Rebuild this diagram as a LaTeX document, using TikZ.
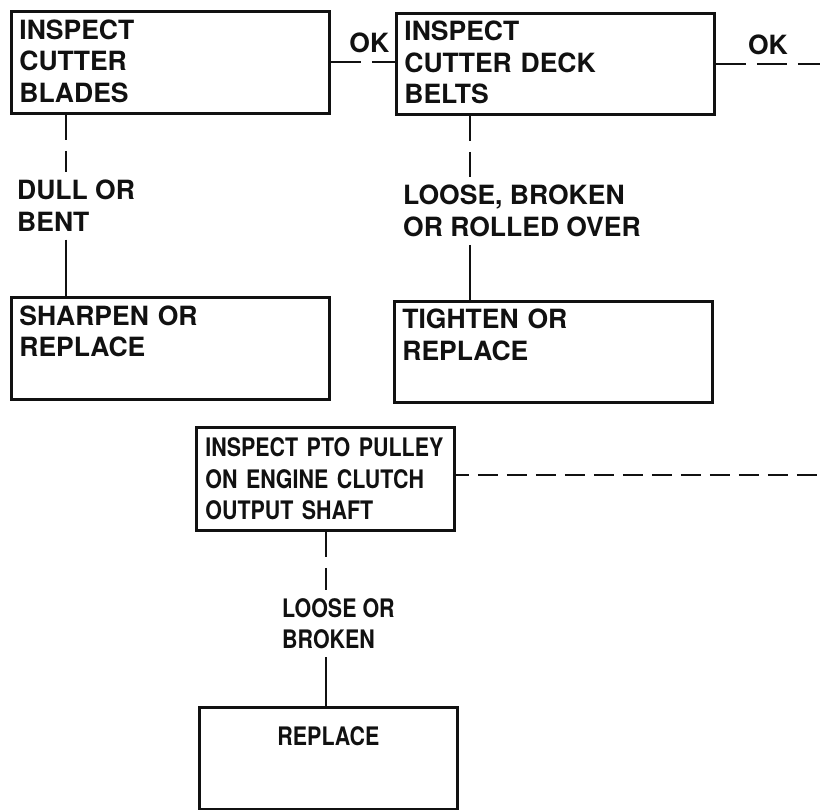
\documentclass[tikz,border=0pt]{standalone}
\usepackage{fontspec}
\setmainfont{TeX Gyre Heros}
\newfontfamily\narrowheros[FakeStretch=0.84]{TeX Gyre Heros}
\usepackage{tikz}
\usetikzlibrary{positioning,calc}
\definecolor{ink}{HTML}{111111}
\tikzset{
  box/.style     ={draw=ink,line width=2.8pt,anchor=north west,align=left,
                   minimum width=318pt,minimum height=102pt,text width=302pt,
                   inner xsep=8pt,text=ink,text depth=66pt,
                   font=\bfseries\fontsize{26.5}{31.5}\selectfont},
  smallbox/.style={draw=ink,line width=2.8pt,anchor=north west,align=left,
                   minimum width=258pt,minimum height=103pt,text width=240pt,
                   inner xsep=9pt,text=ink,
                   font=\narrowheros\bfseries\fontsize{25.5}{31.5}\selectfont},
  cond/.style    ={anchor=north west,align=left,inner xsep=0pt,inner ysep=8pt,
                   text=ink,font=\bfseries\fontsize{26.5}{31.5}\selectfont},
  narrowcond/.style={cond,font=\narrowheros\bfseries\fontsize{25.5}{31.5}\selectfont},
  oklabel/.style ={text=ink,font=\bfseries\fontsize{26.5}{31.5}\selectfont},
  link/.style    ={draw=ink,line width=2pt},
  iflink/.style  ={link,dash pattern=on 25pt off 11pt},
  oklink/.style  ={link,dash pattern=on 30pt off 11pt},
  outlink/.style ={link,dash pattern=on 20pt off 9pt,dash phase=7pt}
}
\begin{document}
\begin{tikzpicture}[x=1pt,y=-1pt]
  \useasboundingbox[fill=white] (0,0) rectangle (820,810);
  % right edge of the sheet, where the OK paths run off
  \coordinate (rim) at (820,0);
  % inspection boxes
  \node[box] (blades) at (10,10) {INSPECT\\CUTTER\\BLADES};
  \node[box,minimum height=101pt] (belts) at (395,12) {INSPECT\\CUTTER DECK\\BELTS};
  \node[smallbox] (pto) at (195,426) {INSPECT PTO PULLEY\\ON ENGINE CLUTCH\\OUTPUT SHAFT};
  % remedy boxes
  \node[box] (sharpen) at (10,296) {SHARPEN OR\\REPLACE\\~};
  \node[box,minimum height=101pt] (tighten) at (393,300) {TIGHTEN OR\\REPLACE\\~};
  \node[smallbox,minimum height=102pt,align=center,text depth=45pt] (replace) at (198,706) {REPLACE};
  % conditions
  \node[cond] (dull) at (17,172) {DULL OR\\BENT};
  \node[cond] (loose) at (403,177) {LOOSE, BROKEN\\OR ROLLED OVER};
  \node[narrowcond] (broken) at (282,590) {LOOSE OR\\BROKEN};
  \coordinate (c1) at (66,0);
  \coordinate (c2) at (470,0);
  \coordinate (c3) at (326,0);
  % OK paths
  \draw[oklink] (blades.east) -- (blades.east -| belts.west)
    node[oklabel,pos=0.6,above=5pt] (ok1) {OK};
  \draw[oklink] (belts.east) -- (belts.east -| rim)
    node[oklabel,midway,above=5pt] (ok2) {OK};
  \draw[outlink] ([yshift=4pt]pto.east) -- ([yshift=4pt]pto.east -| rim);
  % fault paths
  \draw[iflink] (blades.south -| c1) -- (dull.north -| c1);
  \draw[link] (dull.south -| c1) -- (sharpen.north -| c1);
  \draw[iflink] (belts.south -| c2) -- (loose.north -| c2);
  \draw[link] (loose.south -| c2) -- (tighten.north -| c2);
  \draw[iflink] (pto.south -| c3) -- (broken.north -| c3);
  \draw[link] (broken.south -| c3) -- (replace.north -| c3);
\end{tikzpicture}
\end{document}
